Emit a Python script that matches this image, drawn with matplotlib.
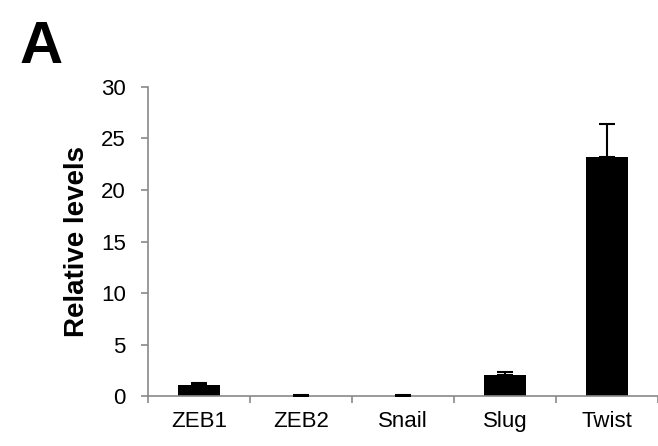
import numpy as np
import matplotlib
matplotlib.use('Agg')
import matplotlib.pyplot as plt

plt.rcParams['font.family'] = ['Liberation Sans', 'DejaVu Sans']

# data
genes = ['ZEB1', 'ZEB2', 'Snail', 'Slug', 'Twist']
levels = [1.1, 0.05, 0.05, 2.05, 23.2]
errors = [0.15, 0.02, 0.02, 0.3, 3.2]

spine_col = '#898989'

fig = plt.figure(figsize=(6.58, 4.46), dpi=100)
ax = fig.add_axes([0.225, 0.112, 0.775, 0.693])

x = np.arange(len(genes))
ax.bar(x, levels, width=0.42, color='black', zorder=2)
ax.errorbar(x, levels, yerr=[np.zeros(len(errors)), errors], fmt='none',
            ecolor='black', elinewidth=1.5, capsize=6, capthick=1.5, zorder=3)

ax.set_xlim(-0.5, len(genes) - 0.5)
ax.set_ylim(0, 30)
ax.set_yticks(range(0, 31, 5))
ax.set_xticks(x)
ax.set_xticklabels(genes)
ax.set_xticks(np.arange(-0.5, len(genes), 1.0), minor=True)

for s in ['top', 'right']:
    ax.spines[s].set_visible(False)
for s in ['left', 'bottom']:
    ax.spines[s].set_color(spine_col)
    ax.spines[s].set_linewidth(1.2)

ax.tick_params(axis='y', direction='out', length=5, width=1.2, color=spine_col,
               labelsize=16, pad=11)
ax.tick_params(axis='x', which='major', length=0, labelsize=16, pad=11)
ax.tick_params(axis='x', which='minor', direction='out', length=5, width=1.2,
               color=spine_col)

ax.set_ylabel('Relative levels', fontsize=20, fontweight='bold', labelpad=8)

fig.text(0.03, 0.955, 'A', fontsize=43, fontweight='bold', va='top', ha='left')

fig.savefig('out.png', dpi=100)
